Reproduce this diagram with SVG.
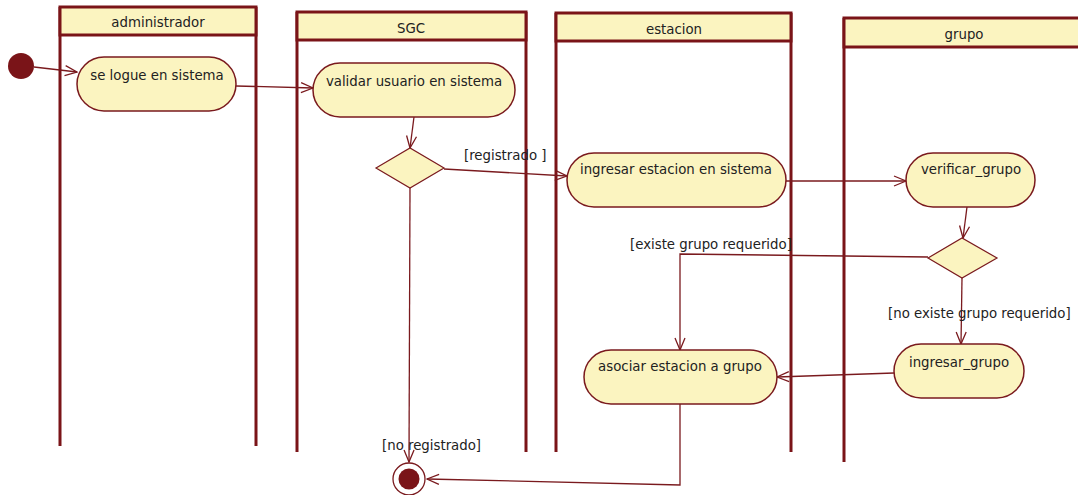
<svg xmlns="http://www.w3.org/2000/svg" width="1078" height="495" viewBox="0 0 1078 495">
  <style>
    .lane { fill: none; stroke: #7a1418; stroke-width: 3; }
    .head { fill: #fbf4c0; stroke: #7a1418; stroke-width: 3; }
    .act { fill: #fbf4c0; stroke: #7a1a1e; stroke-width: 1.5; }
    .dec { fill: #fbf4c0; stroke: #7a1a1e; stroke-width: 1.2; }
    .edge { fill: none; stroke: #7a1a1e; stroke-width: 1.3; }
    text { font-family: "DejaVu Sans Condensed", "Liberation Sans", Arial, sans-serif; font-size: 14.8px; fill: #222; }
    .c { text-anchor: middle; }
  </style>
  <defs>
    <marker id="open" markerUnits="userSpaceOnUse" markerWidth="14" markerHeight="14" refX="13" refY="6" orient="auto">
      <path d="M1,1 L13,6 L1,11" fill="none" stroke="#7a1a1e" stroke-width="1.3"/>
    </marker>
  </defs>
  <rect width="1078" height="495" fill="#ffffff"/>

  <!-- swimlanes -->
  <g id="lane-administrador">
    <path class="lane" d="M60,7 V446 M256,7 V446"/>
    <rect class="head" x="60" y="7" width="196" height="28"/>
    <text class="c" x="158" y="27">administrador</text>
  </g>
  <g id="lane-sgc">
    <path class="lane" d="M297,12 V452 M526,12 V452"/>
    <rect class="head" x="297" y="12" width="229" height="28"/>
    <text class="c" x="411" y="33">SGC</text>
  </g>
  <g id="lane-estacion">
    <path class="lane" d="M556,13 V452 M791,13 V452"/>
    <rect class="head" x="556" y="13" width="235" height="28"/>
    <text class="c" x="674" y="34">estacion</text>
  </g>
  <g id="lane-grupo">
    <path class="lane" d="M844,18 V462"/>
    <rect class="head" x="844" y="18" width="240" height="29"/>
    <text class="c" x="964" y="39">grupo</text>
  </g>

  <!-- connectors -->
  <g id="connectors">
    <path class="edge" marker-end="url(#open)" d="M34,67 L77,72"/>
    <path class="edge" marker-end="url(#open)" d="M236,86 L313,88"/>
    <path class="edge" marker-end="url(#open)" d="M414,117 L410,148"/>
    <path class="edge" marker-end="url(#open)" d="M444,169 L567,176"/>
    <path class="edge" marker-end="url(#open)" d="M786,181 L906,181"/>
    <path class="edge" marker-end="url(#open)" d="M967,207 L963,238"/>
    <path class="edge" marker-end="url(#open)" d="M928,257 L680,254 L680,350"/>
    <path class="edge" marker-end="url(#open)" d="M962,278 L961,344"/>
    <path class="edge" marker-end="url(#open)" d="M894,373 L777,377"/>
    <path class="edge" marker-end="url(#open)" d="M410,188 L409,462"/>
    <path class="edge" marker-end="url(#open)" d="M680,404 L680,485 L427,479"/>
    <text x="464" y="160">[registrado ]</text>
    <text x="630" y="249">[existe grupo requerido]</text>
    <text x="888" y="318">[no existe grupo requerido]</text>
    <text x="382" y="450">[no registrado]</text>
  </g>

  <!-- nodes -->
  <g id="initial">
    <circle cx="21" cy="66" r="13" fill="#7a1418"/>
  </g>
  <g id="se-logue">
    <rect class="act" x="77" y="57" width="159" height="54" rx="27"/>
    <text class="c" x="157" y="80">se logue en sistema</text>
  </g>
  <g id="validar-usuario">
    <rect class="act" x="313" y="63" width="202" height="54" rx="27"/>
    <text class="c" x="414" y="86">validar usuario en sistema</text>
  </g>
  <g id="decision-registrado">
    <polygon class="dec" points="376,168 410,148 444,168 410,188"/>
  </g>
  <g id="ingresar-estacion">
    <rect class="act" x="567" y="153" width="219" height="54" rx="27"/>
    <text class="c" x="676" y="174">ingresar estacion en sistema</text>
  </g>
  <g id="verificar-grupo">
    <rect class="act" x="906" y="153" width="129" height="54" rx="27"/>
    <text class="c" x="971" y="174">verificar_grupo</text>
  </g>
  <g id="decision-grupo">
    <polygon class="dec" points="928,258 962,238 997,258 962,278"/>
  </g>
  <g id="ingresar-grupo">
    <rect class="act" x="894" y="344" width="130" height="54" rx="27"/>
    <text class="c" x="959" y="367">ingresar_grupo</text>
  </g>
  <g id="asociar-estacion">
    <rect class="act" x="584" y="350" width="193" height="54" rx="27"/>
    <text class="c" x="680" y="371">asociar estacion a grupo</text>
  </g>
  <g id="final">
    <circle cx="409" cy="479" r="16" fill="#ffffff" stroke="#7a1a1e" stroke-width="1.3"/>
    <circle cx="409" cy="479" r="10.5" fill="#7a1418"/>
  </g>
</svg>
